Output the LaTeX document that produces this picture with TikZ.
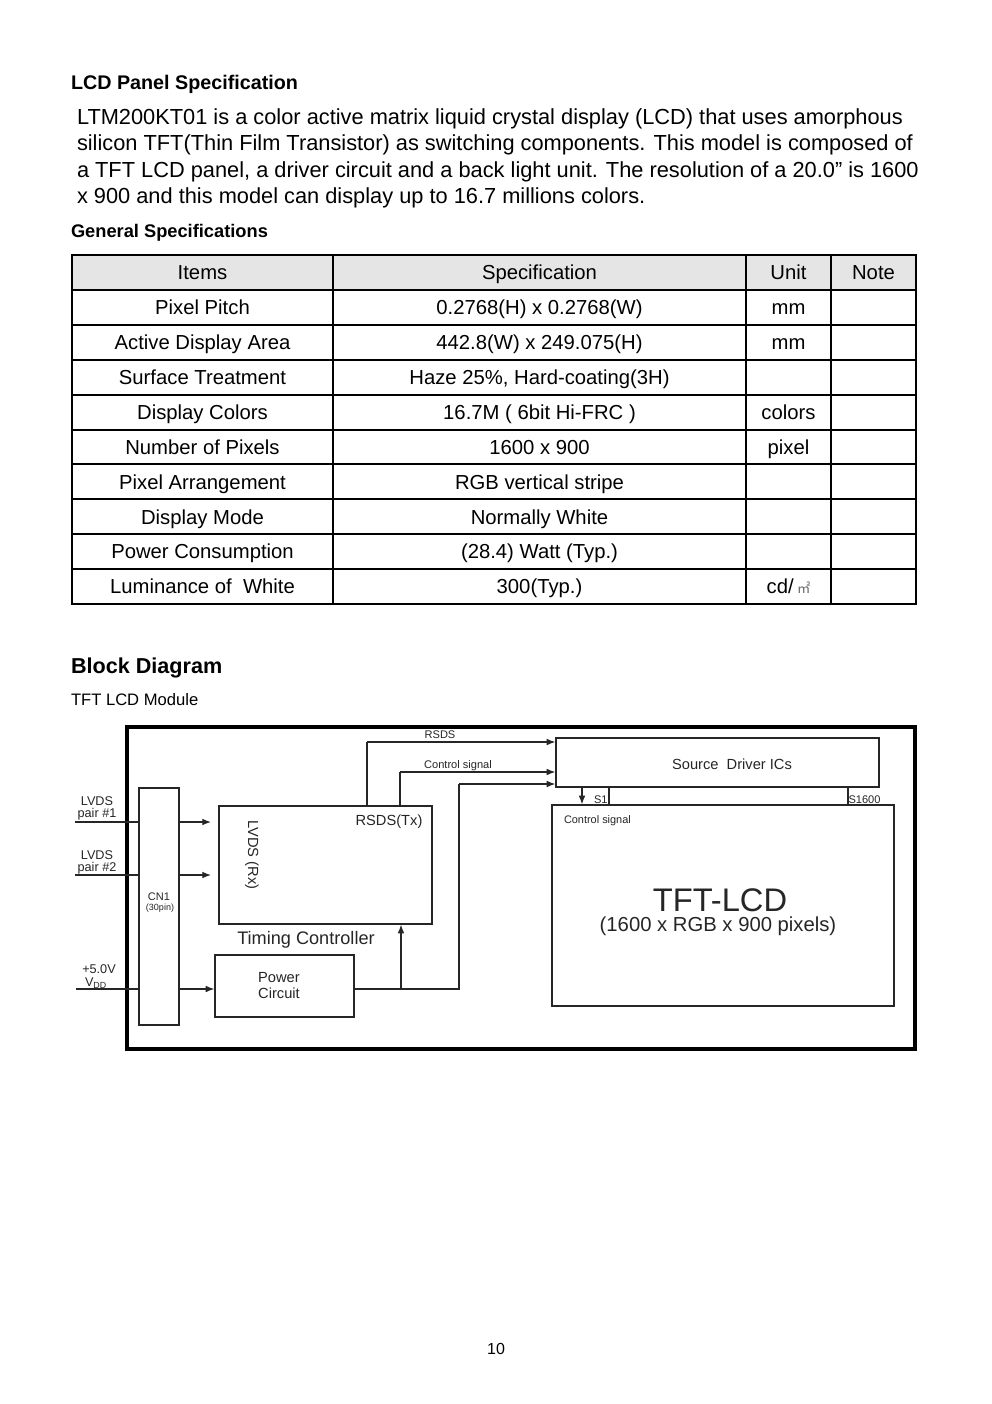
\documentclass[tikz,border=0pt]{standalone}
\usepackage{fontspec}
\setmainfont{Liberation Sans}
\newfontfamily\cjk{Noto Sans CJK SC}
\usetikzlibrary{arrows.meta,calc,fit}
\newcommand\fsz[1]{\fontsize{#1}{#1}\selectfont}
\begin{document}
\begin{tikzpicture}[x=0.75pt,y=-0.75pt,
  txt/.style={inner sep=0pt,outer sep=0pt,text=black},
  tbl/.style={txt,anchor=base,font=\fsz{15.2pt}},
  gridline/.style={line width=1.5pt,black},
  blk/.style={draw=black!85,line width=0.9pt,inner sep=0pt},
  wire/.style={draw=black!85,line width=0.9pt},
  arr/.style={wire,-{Latex[length=6.5pt,width=5pt]}},
  dlab/.style={txt,text=black!85},
]
\useasboundingbox[fill=white] (0,0) rectangle (992,1404);

% ---------- header text ----------
\node[txt,anchor=base west,font=\bfseries\fsz{14.8pt}] (h1) at (71,89) {LCD Panel Specification};
\node[txt,anchor=base west,font=\fsz{16.35pt}] (p1) at (77,124) {LTM200KT01 is a color active matrix liquid crystal display (LCD) that uses amorphous};
\node[txt,anchor=base west,font=\fsz{16.35pt}] (p2) at (77,150) {silicon TFT(Thin Film Transistor) as switching components. This model is composed of};
\node[txt,anchor=base west,font=\fsz{16.35pt}] (p3) at (77,177) {a TFT LCD panel, a driver circuit and a back light unit. The resolution of a 20.0” is 1600};
\node[txt,anchor=base west,font=\fsz{16.35pt}] (p4) at (77,203) {x 900 and this model can display up to 16.7 millions colors.};
\node[txt,anchor=base west,font=\bfseries\fsz{13.7pt}] (h2) at (71,237) {General Specifications};

% ---------- table ----------
\fill[black!10] (72,255) rectangle (916,290);
\foreach \k in {0,...,10} \draw[gridline] (71,{255+34.9*\k}) -- (917,{255+34.9*\k});
\foreach \xx in {72,333,746,831,916} \draw[gridline] (\xx,255) -- (\xx,604);

\newcommand\trow[4]{%
  \node[tbl] (ra#1) at (202.5,{255+34.9*(#1+0.5)+7.3}) {#2};
  \node[tbl] (rb#1) at (539.5,{255+34.9*(#1+0.5)+7.3}) {#3};
  \node[tbl] (rc#1) at (788.5,{255+34.9*(#1+0.5)+7.3}) {#4};}
\trow{0}{Items}{Specification}{Unit}
\node[tbl] (rd0) at (873.5,{255+34.9*0.5+7.3}) {Note};
\trow{1}{Pixel Pitch}{0.2768(H) x 0.2768(W)}{mm}
\trow{2}{Active Display Area}{442.8(W) x 249.075(H)}{mm}
\trow{3}{Surface Treatment}{Haze 25\%, Hard-coating(3H)}{}
\trow{4}{Display Colors}{16.7M ( 6bit Hi-FRC )}{colors}
\trow{5}{Number of Pixels}{1600 x 900}{pixel}
\trow{6}{Pixel Arrangement}{RGB vertical stripe}{}
\trow{7}{Display Mode}{Normally White}{}
\trow{8}{Power Consumption}{(28.4) Watt (Typ.)}{}
\trow{9}{Luminance of\ \ White}{300(Typ.)}{cd/\,{\cjk\fsz{10pt}\color{black!60}㎡}}

% ---------- block diagram headings ----------
\node[txt,anchor=base west,font=\bfseries\fsz{16.2pt}] (h3) at (71,673) {Block Diagram};
\node[txt,anchor=base west,font=\fsz{12.45pt}] (h4) at (71,705) {TFT LCD Module};

% ---------- block diagram ----------
\draw[line width=3pt,black] (127,727) rectangle (915,1049);

\node[blk,fit={(139,788)(179,1025)}] (cn1) {};
\node[blk,fit={(219,806)(432,924)}] (tc) {};
\node[blk,fit={(215,955)(354,1017)}] (pc) {};
\node[blk,fit={(556,738)(879,787)}] (sd) {};
\node[blk,fit={(552,805)(894,1006)}] (tft) {};

% labels inside blocks
\node[dlab,font=\fsz{8.25pt}] (cn1t) at (159,897) {CN1};
\node[dlab,font=\fsz{6.75pt}] (cn1p) at (160,908) {(30pin)};
\node[dlab,font=\fsz{11pt},rotate=-90] (lvdsrx) at (252,855) {LVDS (Rx)};
\node[dlab,font=\fsz{11pt}] (rsdstx) at (389,822) {RSDS(Tx)};
\node[dlab,font=\fsz{13.6pt}] (tclab) at (306,940) {Timing Controller};
\node[dlab,font=\fsz{11pt},align=center] (pclab) at (279,986) {Power\\[1pt]Circuit};
\node[dlab,font=\fsz{11pt}] (sdlab) at (732,764) {Source\ \ Driver ICs};
\node[dlab,font=\fsz{8.2pt},anchor=west] (tftcs) at (564,821) {Control signal};
\node[dlab,font=\fsz{24.5pt}] (tftlab) at (720,900) {TFT-LCD};
\node[dlab,font=\fsz{15.2pt}] (tftres) at (718,926) {(1600 x RGB x 900 pixels)};

% input labels
\node[dlab,font=\fsz{9.5pt}] (lv1a) at (97,801) {LVDS};
\node[dlab,font=\fsz{9.5pt}] (lv1b) at (97,814) {pair \#1};
\node[dlab,font=\fsz{9.5pt}] (lv2a) at (97,855) {LVDS};
\node[dlab,font=\fsz{9.5pt}] (lv2b) at (97,868) {pair \#2};
\node[dlab,font=\fsz{9.5pt}] (v5a) at (99,969) {+5.0V};
\node[dlab,font=\fsz{9.5pt}] (v5b) at (96,983) {V\textsubscript{DD}};

\coordinate (in1) at (75,822);
\coordinate (in2) at (75,875);
\coordinate (in3) at (76,989);
\draw[wire] (in1) -- (in1 -| cn1.west);
\draw[wire] (in2) -- (in2 -| cn1.west);
\draw[wire] (in3) -- (in3 -| cn1.west);

\coordinate (a1e) at (211,822);
\coordinate (a2e) at (211,875);
\draw[arr] (a1e -| cn1.east) -- (a1e);
\draw[arr] (a2e -| cn1.east) -- (a2e);
\draw[arr] (cn1.east |- in3) -- (in3 -| pc.west);

% power circuit outputs
\coordinate (pj) at (401,989);
\coordinate (pk) at (459,989);
\coordinate (pm) at (459,784);
\draw[wire] (pc.east |- pj) -- (pk) -- (pm);
\draw[arr] (pm) -- (pm -| sd.west);
\draw[arr] (pj) -- (pj |- tc.south);

% RSDS and control signal
\coordinate (rs) at (367,742);
\coordinate (cs) at (400,772);
\draw[wire] (rs |- tc.north) -- (rs);
\draw[arr] (rs) -- (rs -| sd.west);
\draw[wire] (cs |- tc.north) -- (cs);
\draw[arr] (cs) -- (cs -| sd.west);
\node[dlab,font=\fsz{8.3pt}] (rslab) at (440,735) {RSDS};
\node[dlab,font=\fsz{8.3pt}] (cslab) at (458,766) {Control signal};

% source driver to panel
\coordinate (s1) at (582,787);
\coordinate (s1t) at (609,787);
\coordinate (s16) at (848,787);
\draw[arr] (s1) -- (s1 |- tft.north);
\draw[wire] (s1t) -- (s1t |- tft.north);
\draw[wire] (s16) -- (s16 |- tft.north);
\node[dlab,font=\fsz{8.3pt},anchor=west] (s1lab) at (594,800) {S1};
\node[dlab,font=\fsz{8.3pt},anchor=west] (s16lab) at (848.5,800) {S1600};

% page number
\node[txt,anchor=base,font=\fsz{12pt}] (pg) at (496,1354) {10};
\end{tikzpicture}
\end{document}
